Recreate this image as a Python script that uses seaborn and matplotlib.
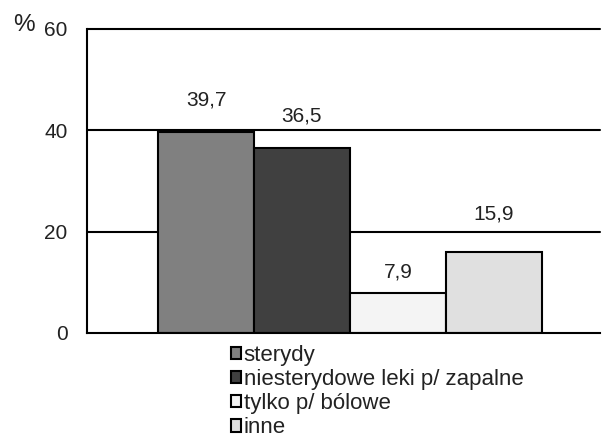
import matplotlib
matplotlib.use("Agg")
import matplotlib.pyplot as plt
import seaborn as sns
import pandas as pd

# Data: share of patients (%) by type of drug used
categories = ["sterydy", "niesterydowe leki p/ zapalne", "tylko p/ bólowe", "inne"]
values = [39.7, 36.5, 7.9, 15.9]
colors = ["#808080", "#404040", "#f4f4f4", "#e0e0e0"]
y_ticks = [0, 20, 40, 60]

df = pd.DataFrame({"grupa": [""] * len(categories), "lek": categories, "procent": values})

sns.set_style("white")
plt.rcParams["font.family"] = ["Liberation Sans", "DejaVu Sans"]

fig = plt.figure(figsize=(6.03, 4.41), dpi=100)
ax = fig.add_axes([87 / 603, 1 - 333 / 441, (600 - 87) / 603, (333 - 29) / 441])

sns.barplot(data=df, x="grupa", y="procent", hue="lek", hue_order=categories,
            palette=dict(zip(categories, colors)), width=0.8, dodge=True,
            edgecolor="black", linewidth=1.5, ax=ax, legend=True, saturation=1)

# Value labels with decimal comma
pads = [16, 16, 8, 21]
for cont, pad in zip(ax.containers, pads):
    ax.bar_label(cont, labels=[f"{v:.1f}".replace(".", ",") for v in cont.datavalues],
                 padding=pad, fontsize=15, color="#222222")

xlo, xhi = -0.548, 0.521
ax.set_xlim(xlo, xhi)
ax.set_ylim(0, 60)
ax.set_yticks(y_ticks)
ax.set_yticklabels([str(t) for t in y_ticks], fontsize=15, color="#222222")
ax.set_xticks([xlo])
ax.set_xticklabels([""])
ax.tick_params(axis="both", direction="out", length=5, width=1.5, color="black", pad=9)
ax.set_xlabel("")
ax.set_ylabel("")

for y in [20, 40, 60]:
    ax.axhline(y, color="black", linewidth=1.5, zorder=0.5, clip_on=False)

for s in ["top", "right"]:
    ax.spines[s].set_visible(False)
for s in ["left", "bottom"]:
    ax.spines[s].set_linewidth(1.5)
    ax.spines[s].set_color("black")

fig.text(13 / 603, 1 - 31 / 441, "%", fontsize=17.5, color="#222222", va="baseline")

handles, labels = ax.get_legend_handles_labels()
ax.get_legend().remove()
fig.legend(handles, labels, loc="upper left", bbox_to_anchor=(231 / 603, 1 - 345 / 441),
           frameon=False, fontsize=16, handlelength=0.47, handleheight=0.47,
           handletextpad=0.1, labelspacing=0.14, borderpad=0, borderaxespad=0,
           labelcolor="#222222")

fig.savefig("out.png", dpi=100)
